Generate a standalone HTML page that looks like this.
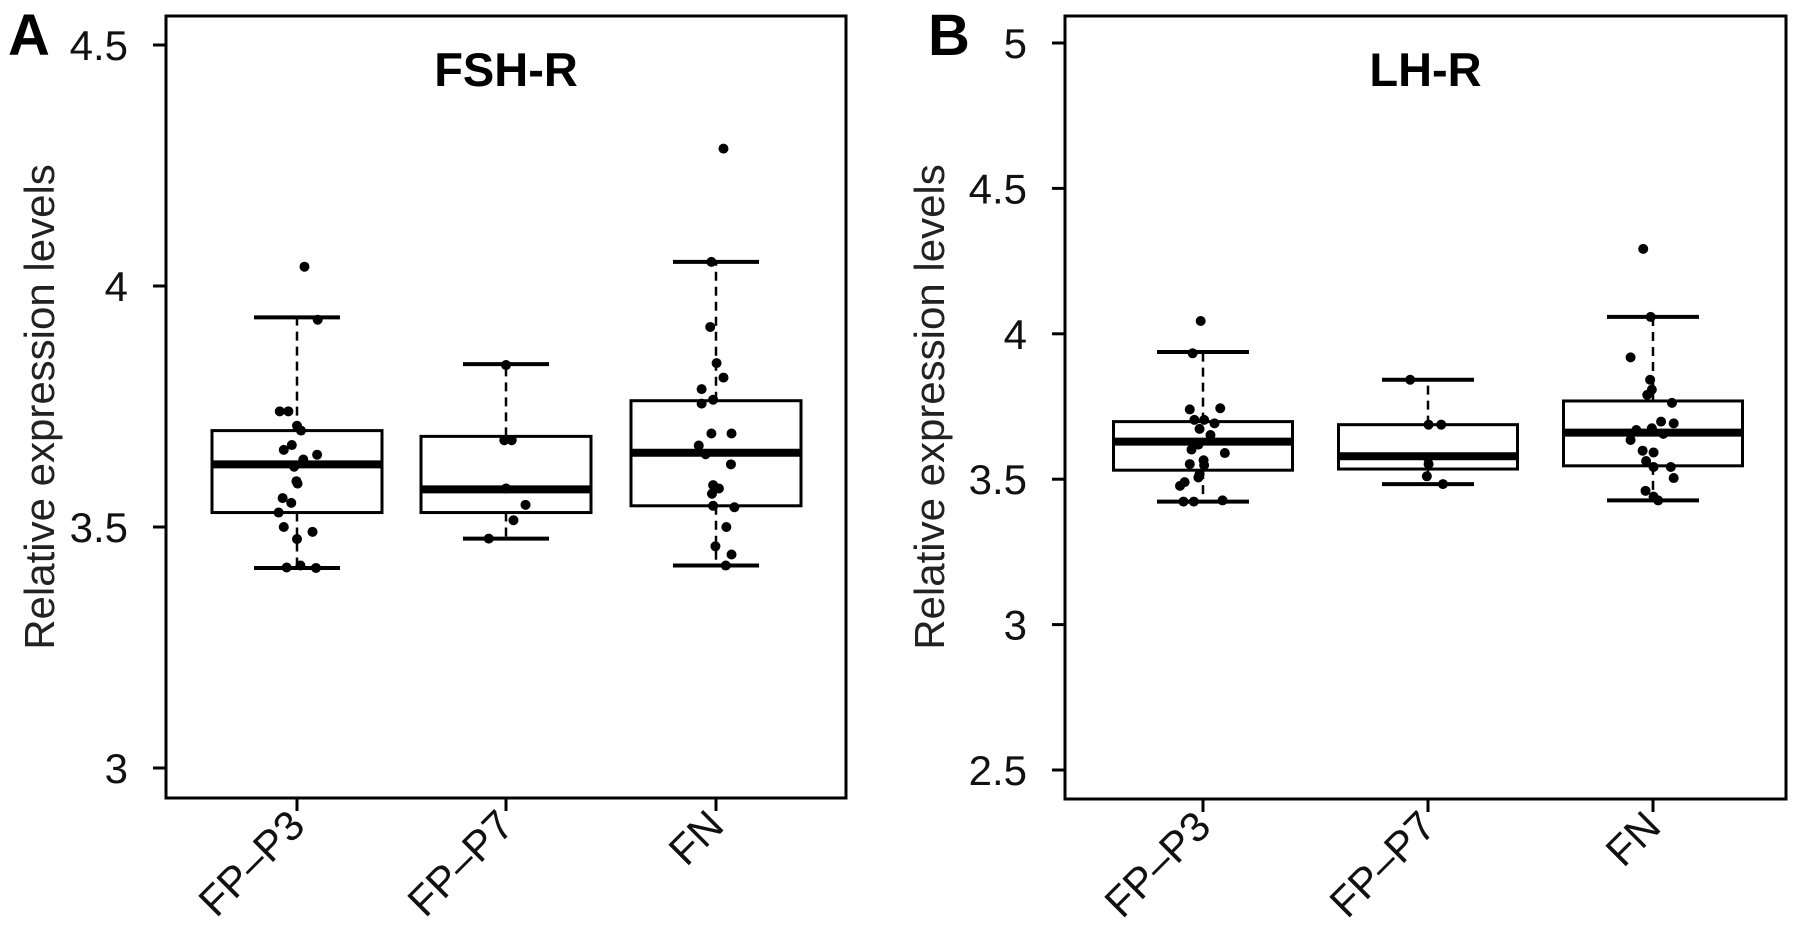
<!DOCTYPE html>
<html><head><meta charset="utf-8"><style>
html,body{margin:0;padding:0;background:#fff;}
svg{display:block;font-family:"Liberation Sans",Arial,sans-serif;}
</style></head><body>
<svg id="fig" width="1795" height="945" viewBox="0 0 1795 945"></svg>
<script>
const categories = ["FP\u2013P3","FP\u2013P7","FN"];
// Panel A (FSH-R) box stats: [whiskerLow, Q1, median, Q3, whiskerHigh]
const fshStats = [[3.415,3.53,3.63,3.70,3.935],[3.476,3.53,3.578,3.688,3.838],[3.42,3.544,3.654,3.762,4.05]];
const fshP3 = [4.04,3.93,3.74,3.74,3.71,3.70,3.67,3.66,3.65,3.64,3.625,3.595,3.59,3.56,3.55,3.53,3.50,3.49,3.475,3.416,3.42,3.415];
const fshP3J = [13,36,-30,-15,0,7,-9,-23,35,11,-5,-1,1,-25,-10,-32,-23,27,0,-18,6,33];
const fshP7 = [3.836,3.68,3.68,3.58,3.546,3.514,3.476];
const fshP7J = [0,-3,10,0,34,13,-30];
const fshFN = [4.285,4.05,3.915,3.84,3.81,3.786,3.764,3.756,3.694,3.694,3.669,3.651,3.63,3.587,3.58,3.569,3.544,3.541,3.50,3.46,3.443,3.42];
const fshFNJ = [13,-8,-10,1,13,-25,-5,-25,-8,27,-30,-18,26,-5,5,-7,-5,32,18,-1,27,17];
// Panel B (LH-R)
const lhStats = [[3.423,3.531,3.629,3.698,3.9375],[3.483,3.535,3.579,3.6875,3.842],[3.427,3.546,3.66,3.769,4.058]];
const lhP3 = [4.044,3.933,3.74,3.744,3.704,3.704,3.692,3.673,3.652,3.619,3.602,3.59,3.565,3.552,3.548,3.517,3.49,3.477,3.506,3.423,3.423,3.427];
const lhP3J = [-4,-18,-23,30,-15,2,20,-6,13,-8,-20,38,1,-23,2,-6,-32,-40,-8,-34,-16,34];
const lhP7 = [3.842,3.6875,3.6875,3.573,3.552,3.51,3.483];
const lhP7J = [-31,1,23,0,1,-2,26];
const lhFN = [4.292,4.058,3.919,3.842,3.808,3.79,3.7625,3.698,3.692,3.669,3.675,3.635,3.656,3.598,3.592,3.5625,3.542,3.542,3.504,3.46,3.44,3.427];
const lhFNJ = [-17,-4,-39,-5,-2,-10,33,14,36,-29,-2,-39,18,-18,1,-12,1,31,36,-13,1,9];
const fshTicks = [3,3.5,4,4.5];
const lhTicks = [2.5,3,3.5,4,4.5,5];

const NS="http://www.w3.org/2000/svg";
const svg=document.getElementById('fig');
function mk(tag,attrs,parent){const e=document.createElementNS(NS,tag);for(const k in attrs)e.setAttribute(k,attrs[k]);(parent||svg).appendChild(e);return e;}

function panel(cfg){
  const g=mk('g',{});
  
  
  const y=v=>cfg.y0+(v-cfg.v0)*(cfg.y1-cfg.y0)/(cfg.v1-cfg.v0);
  const x=i=>cfg.xs[i];
  const f=mk('rect',{x:cfg.L,y:cfg.T,width:cfg.R-cfg.L,height:cfg.B-cfg.T,fill:'none',stroke:'#000','stroke-width':3},g);
  
  
  cfg.ticks.forEach(t=>{
    const l=mk('line',{x1:cfg.L-13,x2:cfg.L,y1:y(t),y2:y(t),stroke:'#000','stroke-width':3},g);
    
    
    const tx=mk('text',{x:cfg.L-38,y:y(t)+15,'text-anchor':'end','font-size':42,fill:'#111'},g);
    tx.textContent=String(t);
    
    
  });
  categories.forEach((c,i)=>{
    const l=mk('line',{x1:x(i),x2:x(i),y1:cfg.B,y2:cfg.B+13,stroke:'#000','stroke-width':3},g);
    
    
    const tx=mk('text',{x:x(i)+10,y:cfg.B+30,'text-anchor':'end','font-size':42,fill:'#111',transform:`rotate(-45 ${x(i)+10} ${cfg.B+30})`},g);
    tx.textContent=c;
    
    
    const s=cfg.stats[i];
    const hw=cfg.boxW/2, cw=cfg.capW/2;
    const d1=mk('line',{x1:x(i),x2:x(i),y1:y(s[3]),y2:y(s[4]),stroke:'#000','stroke-width':2.5,'stroke-dasharray':'9,6'},g);
    
    
    const d2=mk('line',{x1:x(i),x2:x(i),y1:y(s[1]),y2:y(s[0]),stroke:'#000','stroke-width':2.5,'stroke-dasharray':'9,6'},g);
    
    
    [s[0],s[4]].forEach(v=>{
      const cp=mk('line',{x1:x(i)-cw,x2:x(i)+cw,y1:y(v),y2:y(v),stroke:'#000','stroke-width':4},g);
      
      
    });
    const b=mk('rect',{x:x(i)-hw,y:y(s[3]),width:cfg.boxW,height:y(s[1])-y(s[3]),fill:'#fff',stroke:'#000','stroke-width':3},g);
    
    
    const m=mk('line',{x1:x(i)-hw,x2:x(i)+hw,y1:y(s[2]),y2:y(s[2]),stroke:'#000','stroke-width':8},g);
    
    
    const pts=cfg.pts[i], jit=cfg.jit[i];
    pts.forEach((v,k)=>{
      const p=mk('circle',{cx:x(i)+jit[k]*0.575,cy:y(v),r:5,fill:'#000'},g);
      
      
    });
  });
  const tt=mk('text',{x:(cfg.L+cfg.R)/2,y:86,'text-anchor':'middle','font-size':47,'font-weight':'bold',fill:'#000'},g);
  tt.textContent=cfg.title;
  
  
  const yt=mk('text',{x:cfg.ytX,y:407,'text-anchor':'middle','font-size':42,fill:'#222',transform:`rotate(-90 ${cfg.ytX} 407)`},g);
  yt.textContent='Relative expression levels';
  
  
  const lt=mk('text',{x:cfg.letterX,y:55,'font-size':58,'font-weight':'bold',fill:'#000'},g);
  lt.textContent=cfg.letter;
  
  
}
panel({name:'panel-a-fsh-r',title:'FSH-R',letter:'A',letterX:8,ytX:54,L:166,R:846,T:16,B:798,
  v0:4.5,y0:45,v1:3,y1:768,ticks:fshTicks,xs:[297,506,716],boxW:170,capW:86,
  stats:fshStats,pts:[fshP3,fshP7,fshFN],jit:[fshP3J,fshP7J,fshFNJ]});
panel({name:'panel-b-lh-r',title:'LH-R',letter:'B',letterX:928,ytX:944,L:1065,R:1786,T:16,B:799,
  v0:5,y0:43,v1:2.5,y1:770,ticks:lhTicks,xs:[1203,1428,1653],boxW:179,capW:92,
  stats:lhStats,pts:[lhP3,lhP7,lhFN],jit:[lhP3J,lhP7J,lhFNJ]});
</script>
</body></html>
